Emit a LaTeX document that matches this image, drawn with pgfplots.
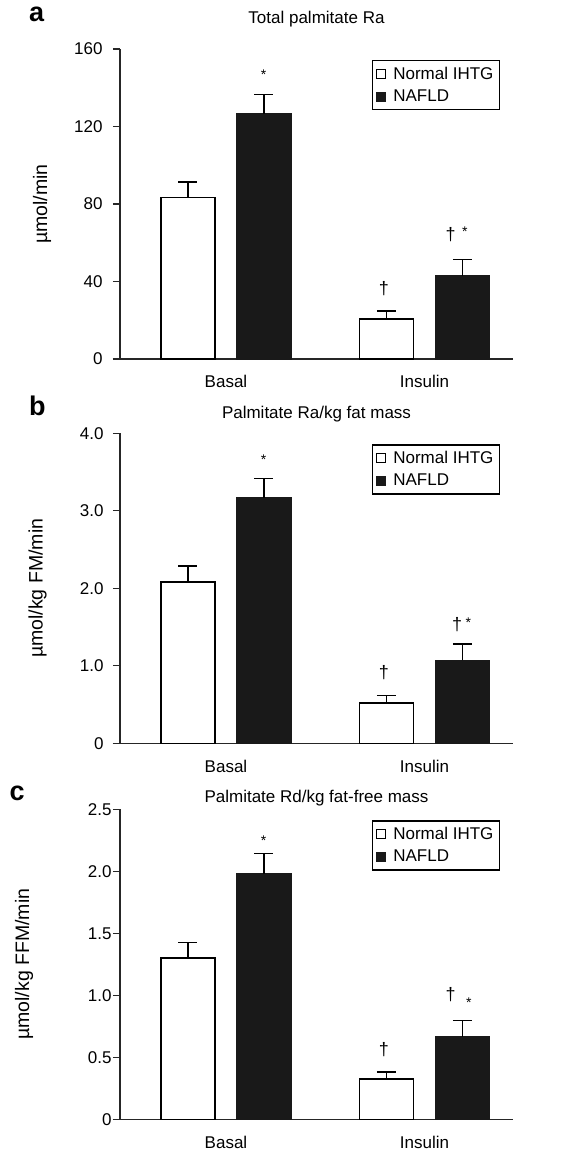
\documentclass[border=0pt]{standalone}
\usepackage{fontspec}
\setmainfont{Liberation Sans}
\usepackage{pgfplots}
\pgfplotsset{compat=1.18}
\definecolor{barblack}{gray}{0.1}
\newcommand{\fs}{\fontsize{17}{20}\selectfont}
\pgfplotsset{
  panel/.style={
    scale only axis, width=393pt, height=310pt,
    xmin=-0.534, xmax=1.446, ymin=0,
    ybar=22pt, bar width=54pt,
    axis x line=bottom, axis y line=left,
    axis line style={-, line width=1.3pt, black!85},
    x axis line style={shorten <=-7pt},
    xtick={0,1}, xticklabels={Basal,Insulin},
    xtick style={draw=none},
    ytick pos=left, tick align=outside, major tick length=7pt,
    ytick style={line width=1.2pt, black!85},
    tick label style={font=\fs},
    xticklabel style={anchor=base, yshift=-22pt},
    ylabel style={font=\fontsize{19.5}{22}\selectfont, anchor=center},
    title style={font=\fs, at={(0.5,1)}, anchor=base},
    legend style={at={(0.967,0.9645)}, anchor=north east, draw=black, line width=1.2pt,
      font=\fs, inner xsep=4pt, inner ysep=4.5pt, row sep=5pt, legend cell align=left,
      /tikz/every odd column/.append style={column sep=5pt}},
    clip=false,
  },
  wbar/.style={fill=white, draw=black, line width=1.2pt,
    legend image code/.code={\draw[line width=0.9pt, fill=white] (0pt,-4.5pt) rectangle (9pt,4.5pt);},
    error bars/.cd, y dir=plus, y explicit,
    error bar style={line width=1.4pt, black},
    error mark options={rotate=90, mark size=9.5pt, line width=1.4pt, black}},
  bbar/.style={fill=barblack, draw=barblack, line width=1.2pt,
    legend image code/.code={\draw[line width=0.9pt, fill=barblack] (0pt,-4.5pt) rectangle (9pt,4.5pt);},
    error bars/.cd, y dir=plus, y explicit,
    error bar style={line width=1.4pt, black},
    error mark options={rotate=90, mark size=9.5pt, line width=1.4pt, black}},
}
\begin{document}
\begin{tikzpicture}
\useasboundingbox (0,0) rectangle (583pt,1157pt);
% ---------- panel a ----------
\begin{axis}[panel, at={(120pt,798pt)}, anchor=south west,
  ymax=160, ytick={0,40,80,120,160}, yticklabels={0,40,80,120,160},
  yticklabel style={xshift=-7pt},
  ylabel={µmol/min}, ylabel style={at={(axis description cs:-0.198,0.5)}},
  title={Total palmitate Ra}, title style={yshift=19pt}]
\addplot[wbar] coordinates {(0,83.3) +- (0,8.1) (1,20.6) +- (0,4.2)};
\addlegendentry{Normal IHTG}
\addplot[bbar] coordinates {(0,126.6) +- (0,10.0) (1,42.8) +- (0,8.5)};
\addlegendentry{NAFLD}
\node[font=\fontsize{14}{16}\selectfont] at (axis cs:0.19,146.6) {*};
\node[font=\fontsize{18}{20}\selectfont] at (axis cs:0.796,36.1) {†};
\node[font=\fontsize{18}{20}\selectfont] at (axis cs:1.132,64) {†};
\node[font=\fontsize{14}{16}\selectfont] at (axis cs:1.204,65.5) {*};
\node[font=\bfseries\fontsize{27}{30}\selectfont, anchor=base west] at (rel axis cs:-0.24,1.088) {a};
\end{axis}
% ---------- panel b ----------
\begin{axis}[panel, at={(120pt,413.7pt)}, anchor=south west,
  ymax=4, ytick={0,1,2,3,4}, yticklabels={0,1.0,2.0,3.0,4.0},
  yticklabel style={xshift=-6pt},
  ylabel={µmol/kg FM/min}, ylabel style={at={(axis description cs:-0.21,0.5)}},
  title={Palmitate Ra/kg fat mass}, title style={yshift=9pt}]
\addplot[wbar] coordinates {(0,2.08) +- (0,0.21) (1,0.52) +- (0,0.10)};
\addlegendentry{Normal IHTG}
\addplot[bbar] coordinates {(0,3.17) +- (0,0.25) (1,1.07) +- (0,0.21)};
\addlegendentry{NAFLD}
\node[font=\fontsize{14}{16}\selectfont] at (axis cs:0.19,3.66) {*};
\node[font=\fontsize{18}{20}\selectfont] at (axis cs:0.796,0.91) {†};
\node[font=\fontsize{18}{20}\selectfont] at (axis cs:1.165,1.53) {†};
\node[font=\fontsize{14}{16}\selectfont] at (axis cs:1.221,1.55) {*};
\node[font=\bfseries\fontsize{27}{30}\selectfont, anchor=base west] at (rel axis cs:-0.24,1.059) {b};
\end{axis}
% ---------- panel c ----------
\begin{axis}[panel, at={(120pt,37.7pt)}, anchor=south west,
  ymax=2.5, ytick={0,0.5,1,1.5,2,2.5}, yticklabels={0,0.5,1.0,1.5,2.0,2.5},
  yticklabel style={xshift=2pt},
  ylabel={µmol/kg FFM/min}, ylabel style={at={(axis description cs:-0.244,0.5)}},
  title={Palmitate Rd/kg fat-free mass}, title style={yshift=0.6pt}]
\addplot[wbar] coordinates {(0,1.30) +- (0,0.125) (1,0.325) +- (0,0.055)};
\addlegendentry{Normal IHTG}
\addplot[bbar] coordinates {(0,1.98) +- (0,0.165) (1,0.667) +- (0,0.129)};
\addlegendentry{NAFLD}
\node[font=\fontsize{14}{16}\selectfont] at (axis cs:0.19,2.25) {*};
\node[font=\fontsize{18}{20}\selectfont] at (axis cs:0.796,0.56) {†};
\node[font=\fontsize{18}{20}\selectfont] at (axis cs:1.132,1.003) {†};
\node[font=\fontsize{14}{16}\selectfont] at (axis cs:1.224,0.944) {*};
\node[font=\bfseries\fontsize{27}{30}\selectfont, anchor=base west] at (rel axis cs:-0.29,1.03) {c};
\end{axis}
\end{tikzpicture}
\end{document}
